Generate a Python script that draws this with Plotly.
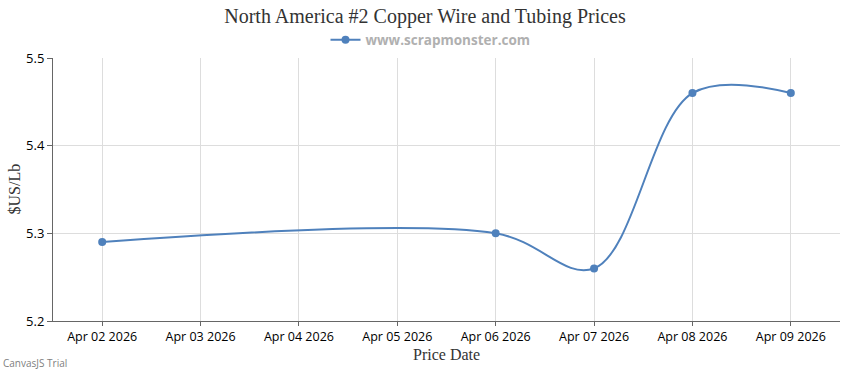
import plotly.graph_objects as go

dates = ["2026-04-02", "2026-04-06", "2026-04-07", "2026-04-08", "2026-04-09"]
prices = [5.29, 5.30, 5.26, 5.46, 5.46]
tick_dates = ["2026-04-02", "2026-04-03", "2026-04-04", "2026-04-05",
              "2026-04-06", "2026-04-07", "2026-04-08", "2026-04-09"]
tick_labels = ["Apr 02 2026", "Apr 03 2026", "Apr 04 2026", "Apr 05 2026",
               "Apr 06 2026", "Apr 07 2026", "Apr 08 2026", "Apr 09 2026"]
y_ticks = [5.2, 5.3, 5.4, 5.5]

color = "#4F81BC"
sans = "Open Sans, Noto Sans, sans-serif"
serif = "Liberation Serif, Times New Roman, serif"

W, H = 850, 370
L, R, T, B = 53, 10, 58, 49
pw, ph = W - L - R, H - T - B

fig = go.Figure()
fig.add_trace(go.Scatter(
    x=dates, y=prices, mode="lines+markers", name="www.scrapmonster.com",
    line=dict(color=color, width=2, shape="spline", smoothing=1.0),
    marker=dict(color=color, size=8),
))

fig.update_layout(
    width=W, height=H,
    margin=dict(l=L, r=R, t=T, b=B, autoexpand=False),
    paper_bgcolor="white", plot_bgcolor="white",
    title=dict(text="North America #2 Copper Wire and Tubing Prices",
               x=0.5, xanchor="center", y=1 - 16 / H, yanchor="middle",
               font=dict(family=serif, size=20, color="#333333")),
    showlegend=True,
    legend=dict(orientation="h", x=0.5 - 16 / pw, xanchor="center",
                yref="container", y=1 - 40 / H, yanchor="middle",
                font=dict(family=sans, size=13.5, color="#b0b0b0", weight="bold"),
                itemwidth=30, bgcolor="rgba(0,0,0,0)"),
    xaxis=dict(
        type="date", automargin=False,
        range=["2026-04-01 12:00", "2026-04-09 12:00"],
        tickmode="array", tickvals=tick_dates, ticktext=tick_labels,
        showgrid=True, gridcolor="#dddddd", gridwidth=1,
        showline=True, linecolor="#666666", linewidth=1,
        ticks="outside", ticklen=4, tickcolor="#666666",
        tickfont=dict(family=sans, size=12.5, color="#000000"),
        zeroline=False,
    ),
    yaxis=dict(
        automargin=False,
        range=[5.2, 5.5],
        tickmode="array", tickvals=y_ticks, ticktext=[f"{v:.1f}" for v in y_ticks],
        showgrid=True, gridcolor="#dddddd", gridwidth=1,
        showline=True, linecolor="#666666", linewidth=1,
        ticks="outside", ticklen=5, tickcolor="#666666",
        tickfont=dict(family=sans, size=13, color="#000000"),
        zeroline=False,
    ),
    annotations=[
        dict(text="Price Date", xref="paper", yref="paper",
             x=0.5, y=-(354 - (T + ph)) / ph, xanchor="center", yanchor="middle",
             showarrow=False, font=dict(family=serif, size=16, color="#333333")),
        dict(text="$US/Lb", xref="paper", yref="paper", textangle=-90,
             x=-(L - 14) / pw, y=0.5, xanchor="center", yanchor="middle",
             showarrow=False, font=dict(family=serif, size=16, color="#333333")),
        dict(text="CanvasJS Trial", xref="paper", yref="paper",
             x=-(L - 1) / pw, y=-(363 - (T + ph)) / ph, xanchor="left", yanchor="middle",
             showarrow=False, font=dict(family=sans, size=10, color="#808080")),
    ],
)

fig.write_html("out.html",
               config={"displayModeBar": False},
               post_script="document.body.style.margin='0';document.body.style.overflow='hidden';")
